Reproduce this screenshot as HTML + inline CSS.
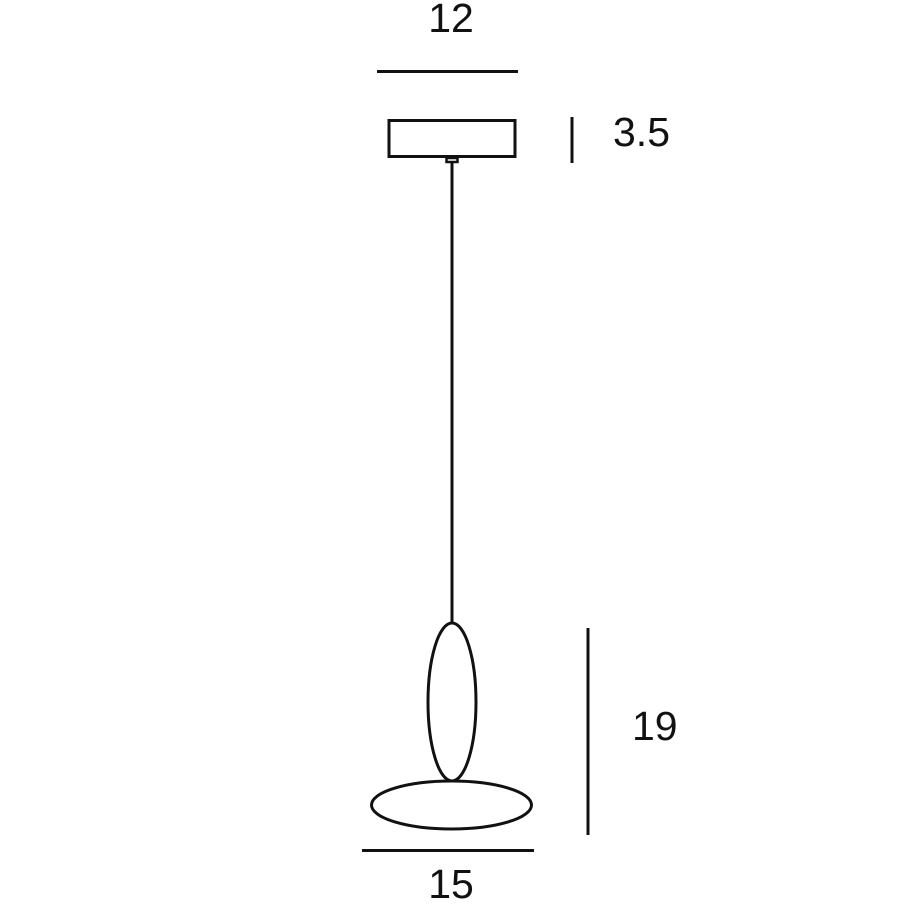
<!DOCTYPE html>
<html><head><meta charset="utf-8"><style>
html,body{margin:0;padding:0;background:#fff;}
svg{display:block;}
text{font-family:"Liberation Sans",sans-serif;font-size:41px;fill:#111;}
</style></head><body>
<svg width="918" height="918" viewBox="0 0 918 918" xmlns="http://www.w3.org/2000/svg">
<g stroke="#111" fill="none">
<line x1="377" y1="71.5" x2="518" y2="71.5" stroke-width="3"/>
<rect x="389" y="120.5" width="126" height="36" stroke-width="3"/>
<rect x="446.5" y="158" width="11" height="4" stroke-width="2.5"/>
<line x1="452" y1="162" x2="452" y2="624" stroke-width="3"/>
<line x1="572" y1="117" x2="572" y2="163" stroke-width="3"/>
<ellipse cx="452" cy="702" rx="24" ry="79" stroke-width="3"/>
<ellipse cx="451.5" cy="805" rx="80" ry="24" stroke-width="3"/>
<line x1="362" y1="850.5" x2="534" y2="850.5" stroke-width="3"/>
<line x1="588" y1="628" x2="588" y2="835" stroke-width="3"/>
</g>
<text x="451" y="32" text-anchor="middle">12</text>
<text x="613" y="146">3.5</text>
<text x="632" y="740">19</text>
<text x="451" y="898" text-anchor="middle">15</text>
</svg>
</body></html>
